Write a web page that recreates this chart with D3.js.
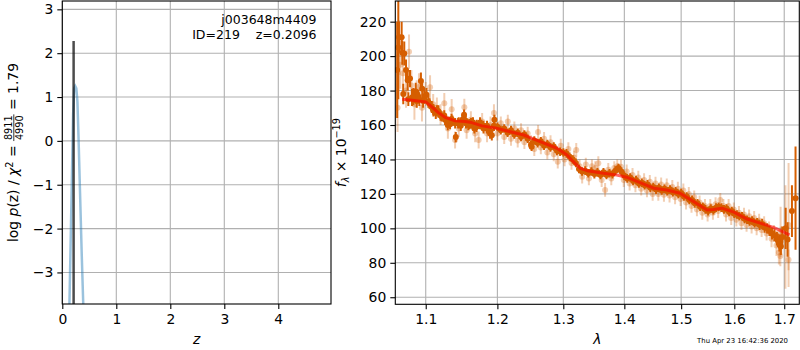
<!DOCTYPE html>
<html><head><meta charset="utf-8">
<script src="https://cdn.jsdelivr.net/npm/d3@7"></script>
<style>body{margin:0;background:#fff}svg{display:block}text{font-family:"DejaVu Sans",sans-serif}</style>
</head><body><svg id="c" width="800" height="350"></svg>
<script>
// ---------------- data ----------------
const zTicks = [0, 1, 2, 3, 4];
const pzTicks = [-3, -2, -1, 0, 1, 2, 3];
const lamTicks = [1.1, 1.2, 1.3, 1.4, 1.5, 1.6, 1.7];
const fluxTicks = [60, 80, 100, 120, 140, 160, 180, 200, 220];

const zGrid = [0.12,0.15,0.18,0.20,0.22,0.24,0.26,0.28,0.30,0.32,0.34,0.36,0.38,0.40];
const logPz = [-4.5,-2.6,-0.7,0.6,1.2,1.25,1.2,0.9,0.1,-0.8,-1.7,-2.6,-3.4,-4.2];
const zBest = [0.2096, 0.2096];
const logPBest = [-4.5, 2.28];

const modelWave = [1.069,1.085,1.100,1.108,1.117,1.126,1.140,1.154,1.163,1.178,1.197,1.219,1.239,1.264,1.290,1.306,1.316,1.327,1.338,1.365,1.387,1.404,1.427,1.451,1.474,1.498,1.523,1.548,1.560,1.576,1.599,1.625,1.651,1.678,1.711];
const modelFlux = [175.0,174.2,173.4,170.6,167.2,164.5,162.4,162.0,161.4,159.5,158.3,156.1,154.2,150.3,146.5,142.6,138.7,134.9,133.5,132.0,131.0,129.7,126.5,123.3,122.3,120.4,115.5,110.7,111.0,111.7,109.4,105.4,103.0,100.6,96.2];

const lightWave = [
 1.0630,1.0645,1.0665,1.0700,1.0740,1.0779,1.0810,1.0850,1.0880,1.0910,
 1.0950,1.1000,1.1058,1.1100,1.1150,1.1200,1.1251,1.1300,1.1352,1.1399,
 1.1450,1.1528,1.1560,1.1620,1.1680,1.1730,1.1780,1.1850,1.1900,1.1950,
 1.2000,1.2050,1.2100,1.2153,1.2200,1.2250,1.2300,1.2350,1.2400,1.2450,
 1.2500,1.2550,1.2608,1.2650,1.2700,1.2750,1.2800,1.2850,1.2913,1.2960,
 1.3020,1.3080,1.3130,1.3170,1.3206,1.3260,1.3301,1.3360,1.3410,1.3460,
 1.3515,1.3565,1.3620,1.3677,1.3730,1.3780,1.3830,1.3880,1.3942,1.3990,
 1.4040,1.4090,1.4140,1.4190,1.4240,1.4290,1.4340,1.4390,1.4440,1.4490,
 1.4540,1.4590,1.4640,1.4690,1.4740,1.4790,1.4840,1.4890,1.4940,1.4990,
 1.5040,1.5090,1.5140,1.5190,1.5240,1.5290,1.5340,1.5390,1.5440,1.5490,
 1.5540,1.5590,1.5640,1.5690,1.5730,1.5790,1.5840,1.5890,1.5940,1.5990,
 1.6040,1.6090,1.6140,1.6190,1.6240,1.6290,1.6340,1.6390,1.6440,1.6490,
 1.6540,1.6590,1.6640,1.6690,1.6740,1.6790,1.6840,1.6890,1.6920,1.6940,
 1.7025,1.7089,1.7090,1.6925];
const lightFlux = [
 170,205,195,190,180,202.6,183,172,178,182,
 170,178,181.9,172,170,166,172.6,158,169.1,151.3,
 158,170.3,157,163,155,151.3,162,155,160,167,
 155,161,153,162,152,158,151,157,150,155,
 150,146,156,147,152,144,150,143,138.7,148,
 140,146,138,141,145.5,136,130,137,129,136,
 135,137.8,128,122.3,134,129,135,136,135.8,128,
 133,126,131,125,129.5,123,128,122,127,120,
 126,120,125.5,119.5,125,119,124,118,123,117,
 122,115,120,113,118,111,115,109,113,108,
 113,109,114,110,116.5,113,108,113,106,111,
 105,109,103,108,102,107,101,106,100,104.5,
 99,103,97,100,94,97,90,86,84,93,
 95,81.7,102,98];
const lightErr = [
 14,16,14,12,10,10,9,9,8,8,
 8,7,7,6,6,6,6,6,6,5,
 5,5,5,5,5,5,5,5,5,5,
 4,4,4,4,4,4,4,4,4,4,
 4,4,4,4,4,4,4,4,4,4,
 4,4,4,4,4,4,4,4,4,4,
 4,4,4,4,4,4,4,4,4,4,
 4,4,4,4,4,4,4,4,4,4,
 4,4,4,4,4,4,4,4,4,4,
 4,4,4,4,4,4,4,4,4,4,
 4,4,4,4,4,4,4,4,4,4,
 4,4,4,4,4,4,4,4,4,4,
 4,4,4,4,5,5,6,7,6,8,
 30,6,36,14.5];

const darkWave = [
 1.0625,1.0640,1.0648,1.0683,1.0691,1.0704,1.0717,1.0740,1.0762,1.0770,
 1.0792,1.0818,1.0836,1.0850,1.0867,1.0880,1.0901,1.0915,1.0936,1.0953,
 1.0965,1.0980,1.1010,
 1.1035,1.1081,1.1103,1.1135,1.1170,1.1216,1.1261,1.1298,1.1330,1.1362,
 1.1409,1.1441,1.1478,1.1524,1.1548,1.1584,1.1622,1.1669,1.1703,1.1750,
 1.1798,1.1847,1.1894,1.1919,1.1957,
 1.105,1.110,1.115,1.120,1.125,1.130,1.135,1.140,1.145,1.150,
 1.155,1.160,1.165,1.170,1.175,1.180,1.185,1.190,1.195,
 1.200,1.205,1.210,1.215,1.220,1.225,1.230,1.235,1.240,1.245,
 1.250,1.255,1.260,1.265,1.270,1.275,1.280,1.285,1.290,1.295,
 1.300,1.305,1.310,1.315,1.320,1.325,1.330,1.335,1.340,1.345,
 1.350,1.355,1.360,1.365,1.370,1.375,1.380,1.385,1.390,1.395,
 1.400,1.405,1.410,1.415,1.420,1.425,1.430,1.435,1.440,1.445,
 1.450,1.455,1.460,1.465,1.470,1.475,1.480,1.485,1.490,1.495,
 1.500,1.505,1.510,1.515,1.520,1.525,1.530,1.535,1.540,1.545,
 1.550,1.555,1.560,1.565,1.570,1.575,1.580,1.585,1.590,1.595,
 1.600,1.605,1.610,1.615,1.620,1.625,1.630,1.635,1.640,1.645,
 1.650,1.655,1.660,1.665,1.670,1.675,1.680,1.685,1.690,
 1.2509,1.6870,1.6930,1.6960,1.7030,1.7069,1.7160,1.7235];
const darkFlux = [
 192,205,211,211,202,178,201.5,192,186,175,
 187,176,176.5,177,179.5,174,176.5,175,185.5,181,
 174,176.5,177.5,
 173.5,170.5,168.5,167,168,165,163,160,160.5,162.5,
 153,161,159.5,166,162.5,160,161,158,160,161.5,
 159.5,158,155,154,163,
 172.5,169,168.5,165.5,165.5,162,163.5,161,161.5,163,
 161,160.5,161.5,159,160.5,158,159.5,156.5,159.5,
 159,157,158,155.5,157,154.5,155.5,153,154.5,152,
 148.5,151,149.5,150.5,148,149,147,147.5,145,144.5,
 144,143.5,141.5,140,138,134.5,133,133.5,132,133,
 131.5,132.5,131,132.5,131,132,131.5,133.5,135,133,
 130.5,129,129.5,127.5,128,126,126.5,125,125.5,123.5,
 124,122.5,123.5,122,123,121.5,122.5,121,121.5,120,
 120.5,118.5,118.5,116.5,116.5,114.5,114.5,112.5,112.5,111,
 110,111.5,110.5,112,112.5,112,111,111.5,109.5,110,
 108.5,108,107,107,105.5,105,104,104.5,103,103.5,
 102,102.5,100.5,100,98.5,97,96,94,91.5,
 147.4,93,89.5,95,100,93.5,110,117.5];
const darkErr = [
 28,30,9,9,7,6,7,6,6,4,
 5,5,5,4,5,4,4,4,5,4,
 4,4,4,
 3.5,3.5,3.5,3.5,3.5,3,3,3,3,3,
 3,3,3,3,3,3,3,3,3,3,
 3,3,3,3,3,
 3,3,3,3,3,3,3,3,3,3,
 3,3,3,3,3,3,3,3,3,
 2.5,2.5,2.5,2.5,2.5,2.5,2.5,2.5,2.5,2.5,
 2.5,2.5,2.5,2.5,2.5,2.5,2.5,2.5,2.5,2.5,
 2.5,2.5,2.5,2.5,2.5,2.5,2.5,2.5,2.5,2.5,
 2.5,2.5,2.5,2.5,2.5,2.5,2.5,2.5,2.5,2.5,
 2.5,2.5,2.5,2.5,2.5,2.5,2.5,2.5,2.5,2.5,
 2.5,2.5,2.5,2.5,2.5,2.5,2.5,2.5,2.5,2.5,
 2.5,2.5,2.5,2.5,2.5,2.5,2.5,2.5,2.5,2.5,
 2.5,2.5,2.5,2.5,2.5,2.5,2.5,2.5,2.5,2.5,
 2.5,2.5,2.5,2.5,2.5,2.5,2.5,2.5,2.5,2.5,
 3,3,3,3,3,3.5,3.5,4,5,
 2.5,4,5,6,12,10,15,30];

// ---------------- drawing ----------------
const svg = d3.select("#c");
const FS = 13.9, GRID = "#b0b0b0", ORANGE = "#d55e00";

function zip3(a, b, c) {
  const n = Math.min(a.length, b.length, c ? c.length : Infinity);
  return d3.range(n).map(i => ({x: a[i], y: b[i], e: c ? c[i] : 0}));
}

function panel(box, xs, ys, xt, yt, id) {
  const g = svg.append("g");
  g.append("g").selectAll("line").data(xt).join("line")
    .attr("x1", d => xs(d)).attr("x2", d => xs(d)).attr("y1", box.y0).attr("y2", box.y1)
    .attr("stroke", GRID).attr("stroke-width", 1.1);
  g.append("g").selectAll("line").data(yt).join("line")
    .attr("y1", d => ys(d)).attr("y2", d => ys(d)).attr("x1", box.x0).attr("x2", box.x1)
    .attr("stroke", GRID).attr("stroke-width", 1.1);
  svg.append("clipPath").attr("id", id).append("rect")
    .attr("x", box.x0).attr("y", box.y0).attr("width", box.x1 - box.x0).attr("height", box.y1 - box.y0);
  return svg.append("g").attr("clip-path", `url(#${id})`);
}

function axes(box, xs, ys, xt, yt, xfmt, yfmt) {
  const ax = svg.append("g").attr("transform", `translate(0,${box.y1})`)
    .call(d3.axisBottom(xs).tickValues(xt).tickSize(5).tickPadding(5).tickFormat(xfmt));
  const ay = svg.append("g").attr("transform", `translate(${box.x0},0)`)
    .call(d3.axisLeft(ys).tickValues(yt).tickSize(5).tickPadding(4).tickFormat(yfmt));
  [ax, ay].forEach(a => {
    a.select(".domain").remove();
    a.attr("font-size", FS).attr("font-family", "DejaVu Sans");
    a.selectAll("line").attr("stroke", "#000").attr("stroke-width", 1.1);
    a.selectAll("text").attr("fill", "#000");
  });
  svg.append("rect").attr("x", box.x0).attr("y", box.y0)
    .attr("width", box.x1 - box.x0).attr("height", box.y1 - box.y0)
    .attr("fill", "none").attr("stroke", "#000").attr("stroke-width", 1.1);
}

// ---- left panel: p(z)
const BL = {x0: 62.3, x1: 331, y0: 1, y1: 304};
const xz = d3.scaleLinear().domain([0, 4.976]).range([BL.x0, BL.x1]);
const yp = d3.scaleLinear().domain([-3.72, 3.19]).range([BL.y1, BL.y0]);
const dL = panel(BL, xz, yp, zTicks, pzTicks, "clipL");
const lineL = d3.line().x(d => xz(d.x)).y(d => yp(d.y));
dL.append("path").datum(zip3(zGrid, logPz)).attr("d", lineL)
  .attr("fill", "none").attr("stroke", "#1f77b4").attr("stroke-opacity", 0.45).attr("stroke-width", 2.5);
dL.append("path").datum(zip3(zBest, logPBest)).attr("d", lineL)
  .attr("fill", "none").attr("stroke", "#000").attr("stroke-opacity", 0.7).attr("stroke-width", 2.5);
axes(BL, xz, yp, zTicks, pzTicks, d3.format("d"), d3.format("d"));

svg.append("text").attr("x", 316.5).attr("y", 24).attr("text-anchor", "end")
  .attr("font-size", 12.5).text("j003648m4409");
svg.append("text").attr("x", 316.5).attr("y", 39.3).attr("text-anchor", "end")
  .attr("font-size", 12.5).style("white-space", "pre").text("ID=219    z=0.2096");

svg.append("text").attr("x", (BL.x0 + BL.x1) / 2).attr("y", 343.5).attr("text-anchor", "middle")
  .attr("font-size", FS).attr("font-style", "italic").text("z");

// left y label (rotated, with fraction)
{
  const outer = svg.append("g").attr("transform", `translate(18,${(BL.y0 + BL.y1) / 2}) rotate(-90)`);
  const g = outer.append("g");
  const t1 = g.append("text").attr("font-size", FS).style("white-space", "pre");
  t1.append("tspan").text("log ");
  t1.append("tspan").attr("font-style", "italic").text("p");
  t1.append("tspan").text("(z) / ");
  t1.append("tspan").attr("font-style", "italic").text("χ");
  t1.append("tspan").attr("font-size", 9.7).attr("dy", -5.5).text("2");
  t1.append("tspan").attr("dy", 5.5).text(" = ");
  const w1 = t1.node().getComputedTextLength();
  const num = g.append("text").attr("font-size", 9.7).attr("y", -5.8).text("8911");
  const den = g.append("text").attr("font-size", 9.7).attr("y", 4.6).text("4990");
  const fw = Math.max(num.node().getComputedTextLength(), den.node().getComputedTextLength()) + 2;
  num.attr("x", w1 + fw / 2).attr("text-anchor", "middle");
  den.attr("x", w1 + fw / 2).attr("text-anchor", "middle");
  g.append("line").attr("x1", w1).attr("x2", w1 + fw).attr("y1", -4.2).attr("y2", -4.2)
    .attr("stroke", "#000").attr("stroke-width", 0.8);
  const t2 = g.append("text").attr("font-size", FS).attr("x", w1 + fw).style("white-space", "pre").text(" = 1.79");
  const W = w1 + fw + t2.node().getComputedTextLength();
  g.attr("transform", `translate(${-W / 2},0)`);
}

// ---- right panel: spectrum
const BR = {x0: 395.3, x1: 799.3, y0: 1, y1: 304.3};
const xl = d3.scaleLog().domain([1.0601, 1.7314]).range([BR.x0, BR.x1]);
const yf = d3.scaleLinear().domain([55.9, 232]).range([BR.y1, BR.y0]);
const dR = panel(BR, xl, yf, lamTicks, fluxTicks, "clipR");

function errPts(g, pts, opacity, r) {
  const gg = g.append("g");
  gg.selectAll("line").data(pts).join("line")
    .attr("x1", d => xl(d.x)).attr("x2", d => xl(d.x))
    .attr("y1", d => yf(d.y - d.e)).attr("y2", d => yf(d.y + d.e))
    .attr("stroke", ORANGE).attr("stroke-opacity", opacity).attr("stroke-width", 2);
  gg.selectAll("circle").data(pts).join("circle")
    .attr("cx", d => xl(d.x)).attr("cy", d => yf(d.y)).attr("r", r)
    .attr("fill", ORANGE).attr("fill-opacity", opacity);
}
errPts(dR, zip3(lightWave, lightFlux, lightErr), 0.3, 3);
errPts(dR, zip3(darkWave, darkFlux, darkErr), 1, 3);
dR.append("path").datum(zip3(modelWave, modelFlux))
  .attr("d", d3.line().x(d => xl(d.x)).y(d => yf(d.y)))
  .attr("fill", "none").attr("stroke", "#ff0000").attr("stroke-opacity", 0.6)
  .attr("stroke-width", 3).attr("stroke-linejoin", "round");
axes(BR, xl, yf, lamTicks, fluxTicks, d3.format(".1f"), d3.format("d"));

svg.append("text").attr("x", (BR.x0 + BR.x1) / 2).attr("y", 343.5).attr("text-anchor", "middle")
  .attr("font-size", FS).attr("font-style", "italic").text("λ");

{
  const outer = svg.append("g").attr("transform", `translate(346,${(BR.y0 + BR.y1) / 2}) rotate(-90)`);
  const t = outer.append("text").attr("font-size", FS).attr("text-anchor", "middle").style("white-space", "pre");
  t.append("tspan").attr("font-style", "italic").text("f");
  t.append("tspan").attr("font-style", "italic").attr("font-size", 9.7).attr("dy", 3).text("λ");
  t.append("tspan").attr("dy", -3).text(" × 10");
  t.append("tspan").attr("font-size", 9.7).attr("dy", -6).text("−19");
}

svg.append("text").attr("x", 788).attr("y", 342.5).attr("text-anchor", "end")
  .attr("font-size", 6.9).text("Thu Apr 23 16:42:36 2020");
</script></body></html>
